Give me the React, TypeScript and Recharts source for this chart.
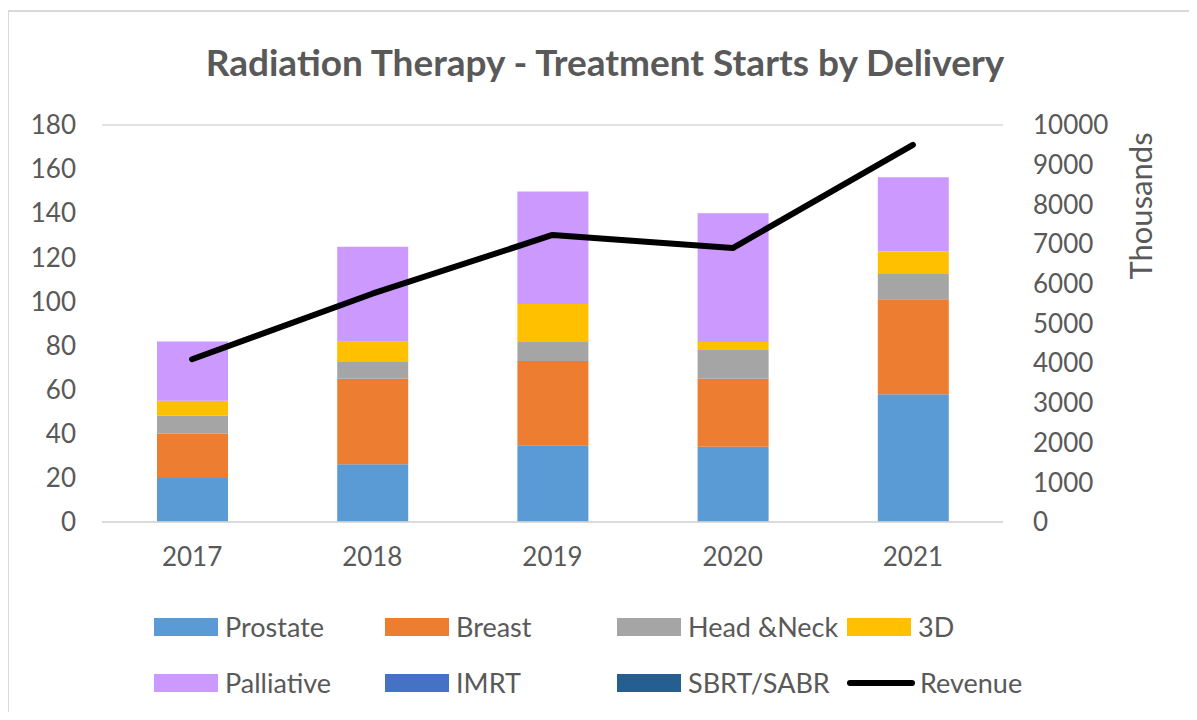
import React from 'react';
import { ComposedChart, Bar, Line, XAxis, YAxis, CartesianGrid, Legend } from 'recharts';

const years = ['2017', '2018', '2019', '2020', '2021'];
const prostate = [20, 26.2, 34.8, 34.1, 57.9];
const breast = [20, 38.8, 38.2, 30.9, 43.1];
const headNeck = [8.3, 7.9, 8.6, 13, 11.4];
const threeD = [6.7, 8.8, 17.2, 3.6, 10.2];
const palliative = [26.8, 43.1, 51.1, 58.4, 33.7];
const imrt = [0, 0, 0, 0, 0];
const sbrt = [0, 0, 0, 0, 0];
const revenue = [4100, 5750, 7230, 6900, 9500];

const leftTicks = [0, 20, 40, 60, 80, 100, 120, 140, 160, 180];
const rightTicks = [0, 1000, 2000, 3000, 4000, 5000, 6000, 7000, 8000, 9000, 10000];

const data = years.map((y, i) => ({
  year: y,
  Prostate: prostate[i],
  Breast: breast[i],
  'Head &Neck': headNeck[i],
  '3D': threeD[i],
  Palliative: palliative[i],
  IMRT: imrt[i],
  'SBRT/SABR': sbrt[i],
  Revenue: revenue[i],
}));

const FONT = 'Lato, "Open Sans", sans-serif';
const TEXT = '#595959';

const COLORS: Record<string, string> = {
  Prostate: '#5B9BD5',
  Breast: '#ED7D31',
  'Head &Neck': '#A5A5A5',
  '3D': '#FFC000',
  Palliative: '#CC99FF',
  IMRT: '#4472C4',
  'SBRT/SABR': '#255E91',
  Revenue: '#000000',
};

const legendRows = [
  ['Prostate', 'Breast', 'Head &Neck', '3D'],
  ['Palliative', 'IMRT', 'SBRT/SABR', 'Revenue'],
];
const colX = [146, 377, 609, 839];
const rowY = [10, 66];

const LegendContent = () => (
  <div style={{ position: 'relative', width: 1181, height: 100, fontFamily: FONT }}>
    {legendRows.map((row, r) =>
      row.map((name, c) => (
        <div
          key={name}
          style={{
            position: 'absolute',
            left: colX[c],
            top: rowY[r],
            height: 18,
            display: 'flex',
            alignItems: 'center',
            whiteSpace: 'nowrap',
          }}
        >
          {name === 'Revenue' ? (
            <div style={{ width: 68, height: 6, background: '#000', borderRadius: 3 }} />
          ) : (
            <div style={{ width: 64, height: 18, background: COLORS[name] }} />
          )}
          <span style={{ marginLeft: name === 'Revenue' ? 5 : 7, fontSize: 27, color: TEXT, lineHeight: '18px' }}>
            {name}
          </span>
        </div>
      ))
    )}
  </div>
);

const ThousandsLabel = (props: any) => {
  const vb = props.viewBox || {};
  const x = (vb.x ?? 995) + 137;
  const y = (vb.y ?? 117) + 81;
  return (
    <text
      x={x}
      y={y}
      transform={`rotate(-90, ${x}, ${y})`}
      textAnchor="middle"
      dominantBaseline="central"
      fill={TEXT}
      fontSize={31}
      fontFamily={FONT}
    >
      Thousands
    </text>
  );
};

const barKeys = ['Prostate', 'Breast', 'Head &Neck', '3D', 'Palliative', 'IMRT', 'SBRT/SABR'];

export default function App() {
  return (
    <div style={{ position: 'relative', width: 1181, height: 704, overflow: 'hidden', background: '#fff' }}>
      <div
        style={{
          position: 'absolute',
          left: -1,
          top: 2,
          width: 1300,
          height: 800,
          borderLeft: '2px solid #d9d9d9',
          borderTop: '2px solid #d9d9d9',
          boxSizing: 'border-box',
          pointerEvents: 'none',
        }}
      />
      <div
        style={{
          position: 'absolute',
          left: 0,
          top: 32,
          width: 1194,
          textAlign: 'center',
          fontFamily: FONT,
          fontWeight: 700,
          fontSize: 37,
          color: TEXT,
          lineHeight: '44px',
        }}
      >
        Radiation Therapy - Treatment Starts by Delivery
      </div>
      <ComposedChart
        width={1181}
        height={704}
        data={data}
        margin={{ top: 117, right: 0, bottom: 150, left: 0 }}
        style={{ position: 'absolute', left: 0, top: 0 }}
      >
        <CartesianGrid vertical={false} stroke="#d9d9d9" strokeWidth={1.5} />
        <XAxis
          dataKey="year"
          height={40}
          axisLine={{ stroke: '#d9d9d9', strokeWidth: 1.5 }}
          tickLine={false}
          tickSize={0}
          tickMargin={26}
          tick={{ fill: TEXT, fontSize: 26, fontFamily: FONT }}
        />
        <YAxis
          yAxisId="left"
          orientation="left"
          width={94}
          domain={[0, 180]}
          ticks={leftTicks}
          interval={0}
          axisLine={false}
          tickLine={false}
          tickSize={0}
          tickMargin={26}
          tick={{ fill: TEXT, fontSize: 26, fontFamily: FONT }}
        />
        <YAxis
          yAxisId="right"
          orientation="right"
          width={186}
          domain={[0, 10000]}
          ticks={rightTicks}
          interval={0}
          axisLine={false}
          tickLine={false}
          tickSize={0}
          tickMargin={30}
          tick={{ fill: TEXT, fontSize: 26, fontFamily: FONT, textAnchor: 'start' }}
          label={<ThousandsLabel />}
        />
        {barKeys.map((k) => (
          <Bar
            key={k}
            dataKey={k}
            yAxisId="left"
            stackId="a"
            fill={COLORS[k]}
            barSize={71}
            isAnimationActive={false}
          />
        ))}
        <Line
          dataKey="Revenue"
          yAxisId="right"
          type="linear"
          stroke="#000"
          strokeWidth={6}
          strokeLinecap="round"
          strokeLinejoin="round"
          dot={false}
          activeDot={false}
          isAnimationActive={false}
        />
        <Legend
          layout="horizontal"
          verticalAlign="middle"
          align="center"
          wrapperStyle={{ left: 0, top: 600, width: 1181 }}
          content={<LegendContent />}
        />
      </ComposedChart>
    </div>
  );
}
